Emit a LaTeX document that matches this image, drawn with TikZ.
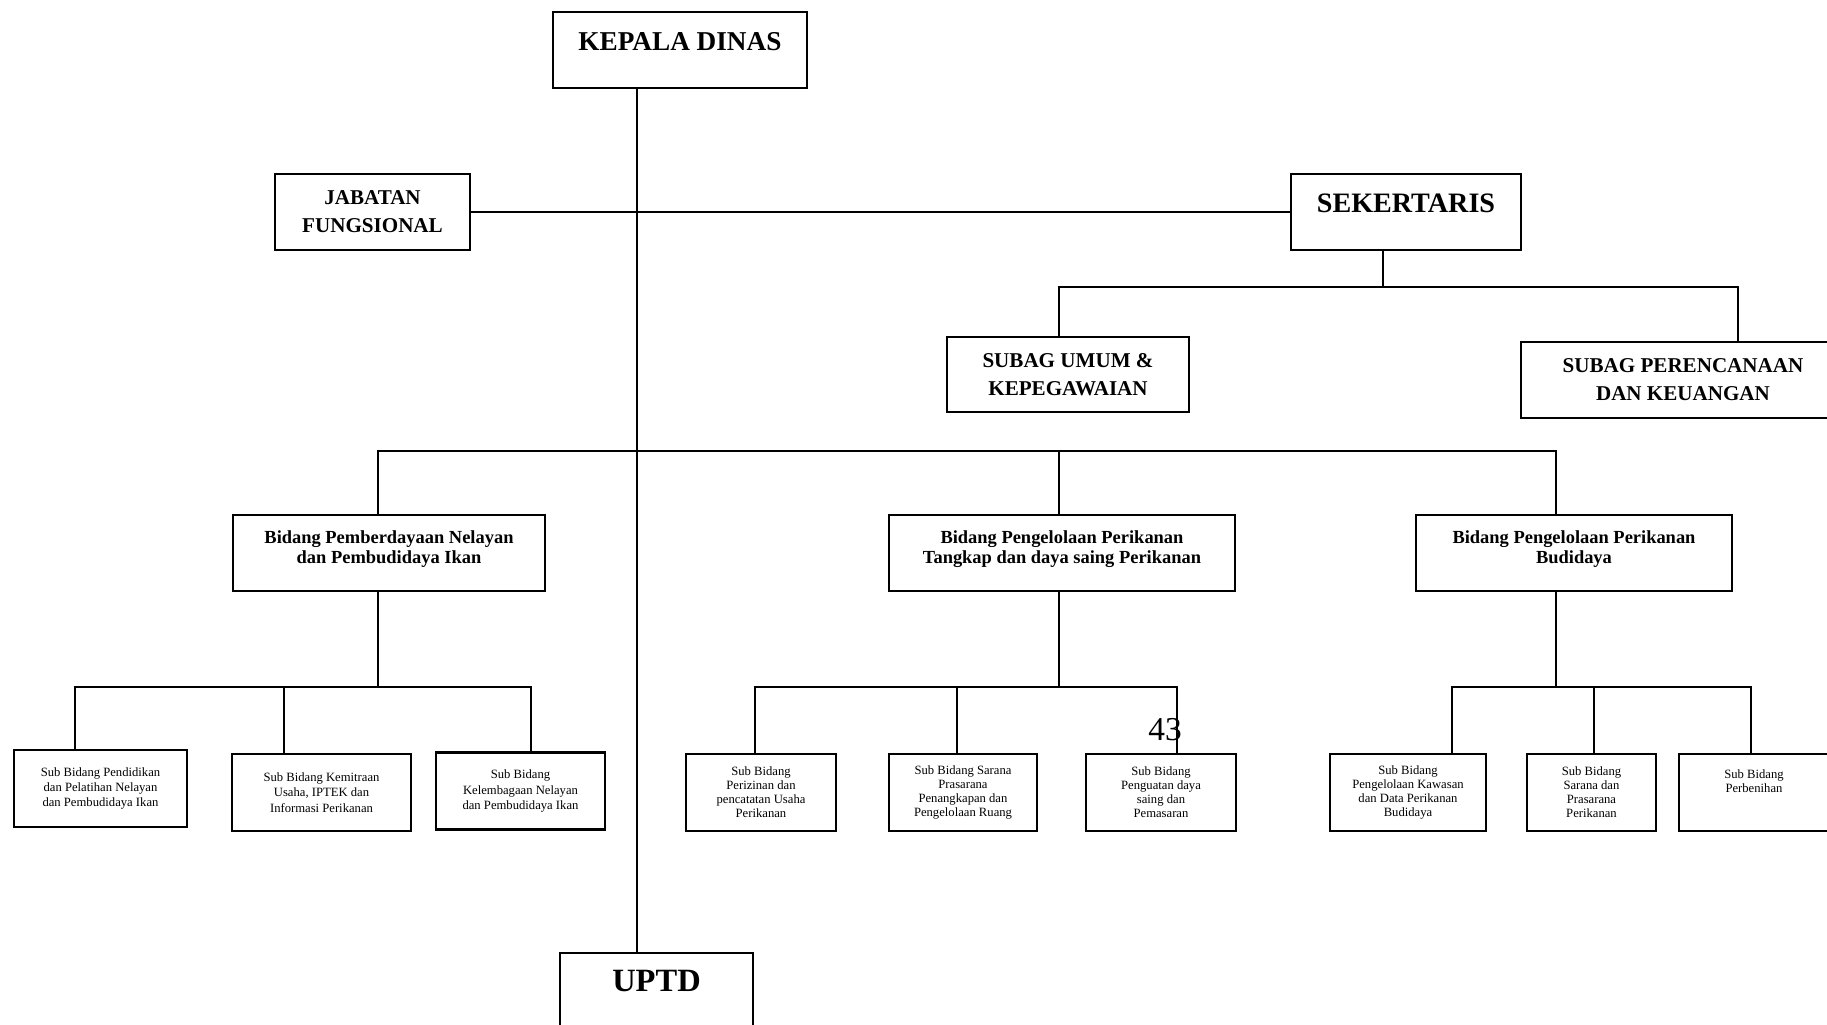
\documentclass[tikz,border=0pt]{standalone}
\usepackage{fontspec}
\setmainfont{Liberation Serif}

\begin{document}
\begin{tikzpicture}[
    x=0.02cm, y=-0.02cm,
    every node/.style={align=center, inner sep=2pt},
    unit/.style={draw, line width=1.1pt, minimum width=#1, minimum height=1.52cm, font=\bfseries\fontsize{12}{16}\selectfont},
    headline/.style={text height=#1, text depth=#1},
    bidang/.style={draw, line width=0.9pt, minimum width=#1, minimum height=1.52cm, font=\bfseries\fontsize{10.5}{11.5}\selectfont},
    subunit/.style={draw, line width=1.5pt, minimum width=#1, minimum height=1.54cm, font=\fontsize{7.2}{8}\selectfont},
    link/.style={line width=1pt}
]
\useasboundingbox (0,0) rectangle (1827,1025);
\clip (0,0) rectangle (1827,1025);

\node[unit=5.08cm, headline=10.5pt, font=\bfseries\fontsize{15.5}{18}\selectfont] (kd) at (680,50) {KEPALA DINAS};
\node[unit=3.9cm] (jf) at (372.5,212) {JABATAN\\FUNGSIONAL};
\node[unit=4.6cm, headline=10.8pt, font=\bfseries\fontsize{16}{18}\selectfont] (sek) at (1406,212) {SEKERTARIS};
\node[unit=4.84cm, minimum height=1.5cm] (umum) at (1068,374.5) {SUBAG UMUM \&\\KEPEGAWAIAN};
\node[unit=6.48cm] (renc) at (1683,380) {SUBAG PERENCANAAN\\DAN KEUANGAN};

\node[bidang=6.24cm] (bid1) at (389,553) {Bidang Pemberdayaan Nelayan\\dan Pembudidaya Ikan\\[-5pt]};
\node[bidang=6.92cm] (bid2) at (1062,553) {Bidang Pengelolaan Perikanan\\Tangkap dan daya saing Perikanan\\[-5pt]};
\node[bidang=6.32cm] (bid3) at (1574,553) {Bidang Pengelolaan Perikanan\\Budidaya\\[-5pt]};

\node[subunit=3.46cm, font=\fontsize{7.2}{8.7}\selectfont] (sub1) at (100.5,788.5) {Sub Bidang Pendidikan\\dan Pelatihan Nelayan\\dan Pembudidaya Ikan};
\node[subunit=3.58cm, font=\fontsize{7.2}{8.7}\selectfont] (sub2) at (321.5,792.5) {Sub Bidang Kemitraan\\Usaha, IPTEK dan\\Informasi Perikanan};
\node[subunit=3.38cm, font=\fontsize{7.2}{8.7}\selectfont] (sub3) at (520.5,791) {Sub Bidang\\Kelembagaan Nelayan\\dan Pembudidaya Ikan};
\node[subunit=3cm] (sub4) at (761,792.5) {Sub Bidang\\Perizinan dan\\pencatatan Usaha\\Perikanan};
\node[subunit=2.96cm] (sub5) at (963,792.5) {Sub Bidang Sarana\\Prasarana\\Penangkapan dan\\Pengelolaan Ruang};
\node[subunit=3cm] (sub6) at (1161,792.5) {Sub Bidang\\Penguatan daya\\saing dan\\Pemasaran};
\node[subunit=3.12cm] (sub7) at (1408,792.5) {Sub Bidang\\Pengelolaan Kawasan\\dan Data Perikanan\\Budidaya};
\node[subunit=2.58cm] (sub8) at (1591.5,792.5) {Sub Bidang\\Sarana dan\\Prasarana\\Perikanan};
\node[subunit=3cm] (sub9) at (1754,792.5) {Sub Bidang\\Perbenihan\\[5pt]};

\node[unit=3.86cm, headline=12.5pt, font=\bfseries\fontsize{18.5}{20}\selectfont] (uptd) at (656.5,991) {UPTD};
\node[font=\fontsize{19}{20}\selectfont] (hal) at (1165,730) {43};

\coordinate (hub) at (637,451);
\coordinate (sekhub) at (1383,287);
\coordinate (g1) at (378,687);
\coordinate (g2) at (1059,687);
\coordinate (g3) at (1556,687);

\draw[link] (kd.south -| hub) -- (uptd.north -| hub);
\draw[link] (jf.east) -- (sek.west);

\draw[link] (sek.south -| sekhub) -- (sekhub);
\foreach \n/\dx in {umum/-9, renc/55}
    \draw[link] ([shift={(\dx,0)}]\n.north) |- (sekhub);

\foreach \n/\dx in {bid1/-11, bid2/-3, bid3/-18}
    \draw[link] ([shift={(\dx,0)}]\n.north) |- (hub);

\draw[link] (bid1.south -| g1) -- (g1);
\draw[link] (bid2.south -| g2) -- (g2);
\draw[link] (bid3.south -| g3) -- (g3);
\foreach \n/\dx in {sub1/-25.5, sub2/-37.5, sub3/10.5}
    \draw[link] ([shift={(\dx,0)}]\n.north) |- (g1);
\foreach \n/\dx in {sub4/-6, sub5/-6, sub6/16}
    \draw[link] ([shift={(\dx,0)}]\n.north) |- (g2);
\foreach \n/\dx in {sub7/44, sub8/2.5, sub9/-3}
    \draw[link] ([shift={(\dx,0)}]\n.north) |- (g3);

\end{tikzpicture}
\end{document}
